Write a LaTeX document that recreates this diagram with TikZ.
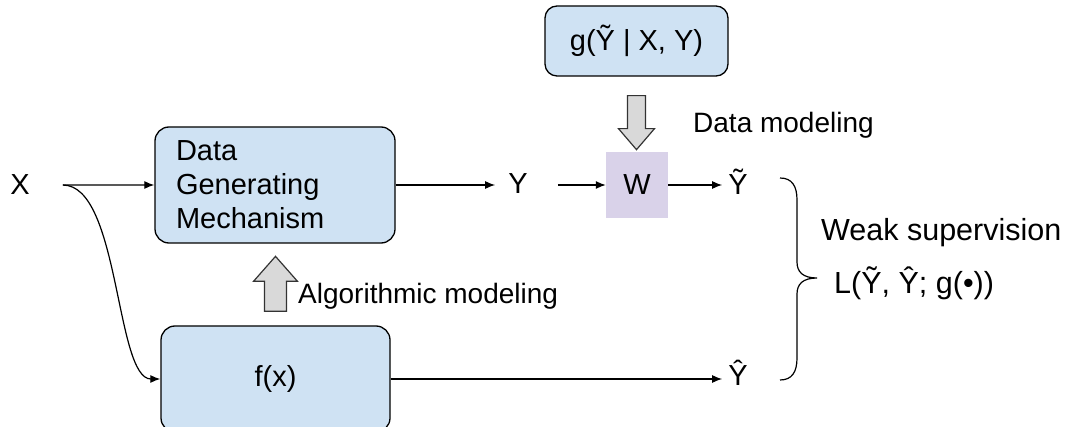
\documentclass[tikz,border=0pt]{standalone}
\usepackage{fontspec}
\setmainfont{Liberation Sans}
\usepackage{xcolor}
\usetikzlibrary{arrows.meta,positioning}
\definecolor{boxblue}{HTML}{CFE2F3}
\definecolor{boxlilac}{HTML}{D9D2E9}
\definecolor{fatgray}{HTML}{D9D9D9}
\begin{document}
\begin{tikzpicture}[
  x=1pt, y=-1pt,
  font=\fontsize{29}{34}\selectfont,
  block/.style={draw,line width=1.3pt,rounded corners=14pt,fill=boxblue,inner sep=0pt},
  sym/.style={inner sep=0pt,anchor=base},
  caption/.style={inner sep=0pt,anchor=base west,font=\fontsize{28}{34}\selectfont},
  bigcaption/.style={caption,font=\fontsize{30.5}{36}\selectfont},
  flow/.style={-{Latex[length=10pt,width=8pt]},line width=1.2pt},
  fatarrow/.style={draw=black!80,line width=1.2pt,fill=fatgray,line join=miter}
]
% page size (pixel grid of the figure, y downwards)
\useasboundingbox (0,0) rectangle (1065,427);

% blocks
\node[block,minimum width=240pt,minimum height=116pt,text width=198pt,align=left] (dgm) at (275,185) {Data\\Generating\\Mechanism};
\node[block,minimum width=229pt,minimum height=106pt] (fx) at (275.5,379) {f(x)};
\node[block,minimum width=183pt,minimum height=70pt,rounded corners=12pt] (g) at (636.5,41) {g(Ỹ | X, Y)};
\node[fill=boxlilac,minimum width=62pt,minimum height=66pt,inner sep=0pt] (w) at (637,185) {W};

% variables
\node[sym] (x)  at (20,195)  {X};
\node[sym] (y)  at (518,194) {Y};
\node[sym] (yt) at (738,195) {Ỹ};
\node[sym] (yh) at (738,385) {Ŷ};

% captions
\node[caption] (algo) at (298,304) {Algorithmic modeling};
\node[caption] (dmod) at (693,133) {Data modeling};
\node[bigcaption] (weak) at (821,241) {Weak supervision};
\node[bigcaption] (loss) at (834,294) {L(Ỹ, Ŷ; g(•))};

% connectors
\coordinate (xs) at ([xshift=33pt]x.east);
\draw[flow] (xs) -- (dgm.west);
\draw[flow] (xs) .. controls +(57,0) and +(-45,0) .. (fx.west);
\draw[flow,shorten >=13pt] (dgm.east) -- (dgm.east -| y.west);
\draw[flow,shorten <=30pt] (y.east |- w.west) -- (w.west);
\draw[flow,shorten >=6pt] (w.east) -- (w.east -| yt.west);
\draw[flow,shorten >=6pt] (fx.east) -- (fx.east -| yh.west);

% hollow arrows
\draw[fatarrow] ([xshift=-11pt,yshift=14pt]fx.north) -- ++(0,-30) -- ++(-11,0) -- ++(22,-25) -- ++(22,25) -- ++(-11,0) -- ++(0,30) -- cycle;
\draw[fatarrow] ([xshift=-9pt,yshift=-19pt]g.south) -- ++(0,33) -- ++(-9,0) -- ++(18,21) -- ++(18,-21) -- ++(-9,0) -- ++(0,-33) -- cycle;

% brace
\draw[line width=1.2pt] (780,178) .. controls (792,178) and (797,186) .. (797,200) -- (797,262)
  .. controls (797,272) and (803,278) .. (817,278)
  .. controls (803,278) and (797,284) .. (797,294) -- (797,358)
  .. controls (797,372) and (792,380) .. (780,380);
\end{tikzpicture}
\end{document}
